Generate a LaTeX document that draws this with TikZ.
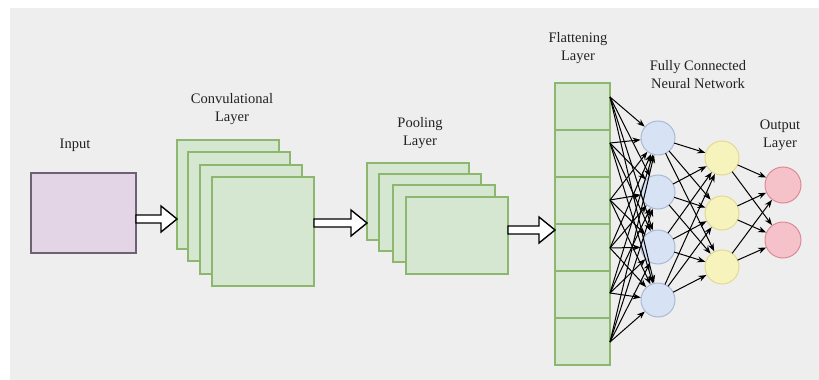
\documentclass[tikz,border=0pt]{standalone}
\usepackage{fontspec}
\setmainfont{Liberation Serif}
\usetikzlibrary{calc,arrows.meta}

\definecolor{panel}{HTML}{EEEEEE}
\definecolor{inpfill}{HTML}{E3D5E6}
\definecolor{inpdraw}{HTML}{6E6174}
\definecolor{grnfill}{HTML}{D5E6D1}
\definecolor{grndraw}{HTML}{8DB66E}
\definecolor{bluefill}{HTML}{D7E2F4}
\definecolor{bluedraw}{HTML}{A9BAD8}
\definecolor{yelfill}{HTML}{F6F3BC}
\definecolor{yeldraw}{HTML}{E2DA92}
\definecolor{redfill}{HTML}{F5C2CA}
\definecolor{reddraw}{HTML}{DC8A98}
\definecolor{txt}{HTML}{222222}

\tikzset{
  lbl/.style={font=\fontsize{14.5}{18}\selectfont, text=txt, align=center, inner sep=0pt},
  inbox/.style={draw=inpdraw, fill=inpfill, line width=1.6pt, minimum width=105pt,
    minimum height=80pt, anchor=north west, inner sep=0pt, outer sep=0pt},
  fmap/.style={draw=grndraw, fill=grnfill, line width=1.3pt, anchor=north west,
    inner sep=0pt, outer sep=0pt},
  convmap/.style={fmap, minimum width=102pt, minimum height=109pt},
  poolmap/.style={fmap, minimum width=102pt, minimum height=77pt},
  cell/.style={fmap, minimum width=55pt, minimum height=47pt, line width=1.2pt},
  neuron/.style={circle, line width=1pt, minimum size=34pt, inner sep=0pt, outer sep=0pt},
  hid1/.style={neuron, draw=bluedraw, fill=bluefill},
  hid2/.style={neuron, draw=yeldraw, fill=yelfill},
  outn/.style={neuron, draw=reddraw, fill=redfill, minimum size=36pt},
  conn/.style={draw=black, line width=1pt, -{Stealth[length=8pt,width=6pt]}, shorten >=0.5pt},
  hollow/.style={draw=black, fill=white, line width=1.4pt, line join=miter},
}

% block arrow with a hollow head, running horizontally from #1 to #2
\newcommand\hollowarrow[2]{%
  \draw[hollow] let \p1=#1, \p2=#2 in
    (\x1,\y1+4pt) -- (\x2-16pt,\y1+4pt) -- (\x2-16pt,\y1+13pt) -- (\x2,\y1)
    -- (\x2-16pt,\y1-13pt) -- (\x2-16pt,\y1-4pt) -- (\x1,\y1-4pt) -- cycle;}

\begin{document}
\begin{tikzpicture}[x=1pt,y=-1pt]
  % canvas
  \fill[white] (0,0) rectangle (819,380);
  \fill[panel] (10,8) rectangle (819,380);
  \useasboundingbox (0,0) rectangle (819,380);

  % input image
  \node[inbox] (inp) at (31,173) {};
  \node[lbl] (tin) at (75,145) {Input};

  % convolutional feature maps (back to front)
  \node[convmap] (c1) at (177,140) {};
  \node[convmap] (c2) at (188,152) {};
  \node[convmap] (c3) at (200,165) {};
  \node[convmap] (c4) at (212,177) {};
  \node[lbl] (tconv) at (232,109.5) {Convulational\\Layer};

  % pooled feature maps
  \node[poolmap] (p1) at (367,163) {};
  \node[poolmap] (p2) at (379,174) {};
  \node[poolmap] (p3) at (393,185) {};
  \node[poolmap] (p4) at (406,197) {};
  \node[lbl] (tpool) at (420,133) {Pooling\\Layer};

  % flattened vector
  \foreach \i [evaluate=\i as \yy using {83+47*(\i-1)}] in {1,...,6}
    \node[cell] (f\i) at (555,\yy) {};
  \node[lbl] (tflat) at (578,48) {Flattening\\Layer};

  % block arrows between stages
  \hollowarrow{(inp.east |- 0,219)}{(c1.west |- 0,219)}
  \hollowarrow{(c4.east |- 0,223)}{(p1.west |- 0,223)}
  \hollowarrow{(p4.east |- 0,230)}{(f4.west |- 0,230)}

  % neurons
  \node[hid1] (b1) at (658,138) {};
  \node[hid1] (b2) at (658,192) {};
  \node[hid1] (b3) at (658,247) {};
  \node[hid1] (b4) at (658,300) {};
  \node[hid2] (y1) at (722,158) {};
  \node[hid2] (y2) at (722,213) {};
  \node[hid2] (y3) at (722,267) {};
  \node[outn] (r1) at (783,185) {};
  \node[outn] (r2) at (783,240) {};
  \node[lbl] (tfc) at (698,74.5) {Fully Connected\\Neural Network};
  \node[lbl] (tout) at (780,135.5) {Output\\Layer};

  % outputs of the flattened cells
  \coordinate (s1) at ($(f1.north east)+(0,14)$);
  \coordinate (s2) at ($(f2.north east)+(0,13)$);
  \coordinate (s3) at ($(f3.north east)+(0,23)$);
  \coordinate (s4) at ($(f4.north east)+(0,24)$);
  \coordinate (s5) at ($(f5.north east)+(0,22)$);
  \coordinate (s6) at ($(f6.north east)+(0,24)$);

  % full connections
  \foreach \s in {1,...,6}
    \foreach \b in {1,...,4}
      \draw[conn] (s\s) -- (b\b);
  \foreach \b in {1,...,4}
    \foreach \y in {1,...,3}
      \draw[conn] (b\b) -- (y\y);
  \foreach \y in {1,...,3}
    \foreach \r in {1,2}
      \draw[conn] (y\y) -- (r\r);
\end{tikzpicture}
\end{document}
